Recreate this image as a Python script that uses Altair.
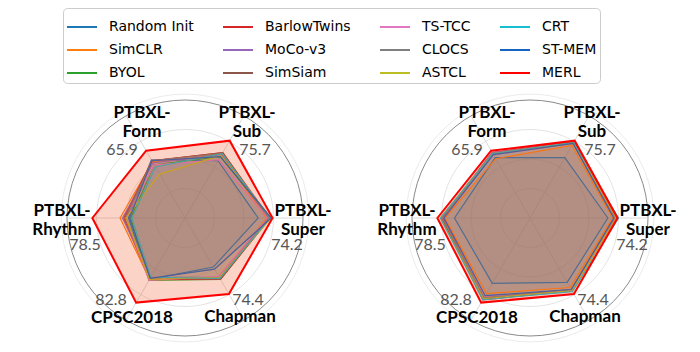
import altair as alt
import pandas as pd

# ---------------- data ----------------
CATEGORIES = ["PTBXL-Super", "PTBXL-Sub", "PTBXL-Form", "PTBXL-Rhythm", "CPSC2018", "Chapman"]
MAX_LABELS = ["74.2", "75.7", "65.9", "78.5", "82.8", "74.4"]

METHODS = ["Random Init", "SimCLR", "BYOL", "BarlowTwins", "MoCo-v3", "SimSiam",
           "TS-TCC", "CLOCS", "ASTCL", "CRT", "ST-MEM", "MERL"]
COLORS = ["#1f77b4", "#ff7f0e", "#2ca02c", "#d62728", "#9467bd", "#8c564b",
          "#e377c2", "#7f7f7f", "#bcbd22", "#17becf", "#1565c0", "#ff0000"]

# values per method, in CATEGORIES order (left panel)
LEFT_RANDOM_INIT = [62, 56, 57, 48, 60, 48]
LEFT_SIMCLR = [69, 62, 55, 55, 60, 59]
LEFT_BYOL = [72, 60, 52, 46, 61, 60]
LEFT_BARLOWTWINS = [72, 64, 56, 52, 60, 60]
LEFT_MOCOV3 = [71, 62, 54, 53, 58, 58]
LEFT_SIMSIAM = [71, 64, 56, 51, 59, 60]
LEFT_TSTCC = [70, 57, 52, 50, 61, 57]
LEFT_CLOCS = [71, 63, 56, 50, 59, 59]
LEFT_ASTCL = [73, 61, 43, 50, 60, 58]
LEFT_CRT = [72, 63, 50, 45, 58, 59]
LEFT_STMEM = [73, 60, 56, 47, 59, 50]
LEFT_MERL = [74.2, 75.7, 65.9, 78.5, 82.8, 74.4]

# right panel
RIGHT_RANDOM_INIT = [66, 59, 59, 64, 64, 63]
RIGHT_SIMCLR = [70, 71, 58, 72, 74, 68]
RIGHT_BYOL = [73, 74, 63, 75, 79, 70]
RIGHT_BARLOWTWINS = [73, 75, 64, 75, 80, 71]
RIGHT_MOCOV3 = [72, 74, 64, 74, 77, 70]
RIGHT_SIMSIAM = [72, 74, 63, 73, 78, 70]
RIGHT_TSTCC = [72, 73, 62, 73, 77, 70]
RIGHT_CLOCS = [72, 73, 63, 74, 78, 70]
RIGHT_ASTCL = [73, 74, 63, 76, 79, 71]
RIGHT_CRT = [75, 74, 63, 76, 80, 72]
RIGHT_STMEM = [71, 73, 62, 73, 76, 70]
RIGHT_MERL = [74.2, 75.7, 65.9, 78.5, 82.8, 74.4]

GRID_VALUES = [25, 50, 75]
OUTER_VALUE = 100
FRAME_VALUE = 105

LEFT = [LEFT_RANDOM_INIT, LEFT_SIMCLR, LEFT_BYOL, LEFT_BARLOWTWINS, LEFT_MOCOV3, LEFT_SIMSIAM,
        LEFT_TSTCC, LEFT_CLOCS, LEFT_ASTCL, LEFT_CRT, LEFT_STMEM, LEFT_MERL]
RIGHT = [RIGHT_RANDOM_INIT, RIGHT_SIMCLR, RIGHT_BYOL, RIGHT_BARLOWTWINS, RIGHT_MOCOV3, RIGHT_SIMSIAM,
         RIGHT_TSTCC, RIGHT_CLOCS, RIGHT_ASTCL, RIGHT_CRT, RIGHT_STMEM, RIGHT_MERL]

# ---------------- layout (pixels) ----------------
W, H = 700, 352
K = 1.18           # pixels per score unit
CY = 218
CX_LEFT, CX_RIGHT = 185, 530
LABEL_DX = [118, 62, -43, -123, -53, 55]
LABEL_DY = [0, -98, -98, 0, 100, 99]
VAL_DX = [102, 70, -63, -100, -74, 63]
VAL_DY = [27, -68, -68, 27, 82, 82]
MULTILINE_SHIFT = -7

LEGEND_ORDER = [METHODS[r + 3 * c] for r in range(3) for c in range(4)]
LEGEND_COLORS = [COLORS[METHODS.index(m)] for m in LEGEND_ORDER]

rows = []
for panel, table in enumerate([LEFT, RIGHT]):
    for m, vals in zip(METHODS, table):
        for i, v in enumerate(vals):
            rows.append({"panel": panel, "method": m, "idx": i, "value": v})
df = pd.DataFrame(rows)

grid_rows = []
for panel in (0, 1):
    for g in GRID_VALUES:
        grid_rows.append({"panel": panel, "value": g, "kind": "grid"})
    grid_rows.append({"panel": panel, "value": OUTER_VALUE, "kind": "outer"})
    grid_rows.append({"panel": panel, "value": FRAME_VALUE, "kind": "frame"})
grid_df = pd.DataFrame(grid_rows)

axis_rows = []
for panel in (0, 1):
    for i, c in enumerate(CATEGORIES):
        multi = c.startswith("PTBXL-")
        axis_rows.append({"panel": panel, "idx": i, "value": OUTER_VALUE,
                          "label": c.replace("PTBXL-", "PTBXL-\n"),
                          "maxlabel": MAX_LABELS[i],
                          "ldx": LABEL_DX[i],
                          "ldy": LABEL_DY[i] + (MULTILINE_SHIFT if multi else 0),
                          "vdx": VAL_DX[i], "vdy": VAL_DY[i]})
axis_df = pd.DataFrame(axis_rows)

xs = alt.Scale(domain=[0, W], nice=False, zero=False)
ys = alt.Scale(domain=[0, H], nice=False, zero=False, reverse=True)
X = lambda f: alt.X(f, scale=xs, axis=None)
Y = lambda f: alt.Y(f, scale=ys, axis=None)

def polar(chart):
    return chart.transform_calculate(
        cx=f"datum.panel == 0 ? {CX_LEFT} : {CX_RIGHT}",
        cy=f"{CY}",
        ang="datum.idx * PI / 3",
    ).transform_calculate(
        px=f"datum.cx + datum.value * {K} * cos(datum.ang)",
        py=f"datum.cy - datum.value * {K} * sin(datum.ang)",
    )

circles = alt.Chart(grid_df).transform_calculate(
    cx=f"datum.panel == 0 ? {CX_LEFT} : {CX_RIGHT}",
    cy=f"{CY}",
    sz=f"pow(2 * datum.value * {K}, 2)",
    col="datum.kind == 'grid' ? '#dcdcdc' : (datum.kind == 'outer' ? '#8a8a8a' : '#e6e6e6')",
    sw="datum.kind == 'outer' ? 1.0 : 0.8",
).mark_point(shape="circle", filled=False, opacity=1).encode(
    x=X("cx:Q"), y=Y("cy:Q"),
    size=alt.Size("sz:Q", scale=None, legend=None),
    stroke=alt.Stroke("col:N", scale=None, legend=None),
    strokeWidth=alt.StrokeWidth("sw:Q", scale=None, legend=None),
)

spokes = polar(alt.Chart(axis_df)).mark_rule(color="#d0d0d0", strokeWidth=0.8).encode(
    x=X("cx:Q"), y=Y("cy:Q"), x2="px:Q", y2="py:Q",
)

color_scale = alt.Scale(domain=LEGEND_ORDER, range=LEGEND_COLORS)
fill_scale = alt.Scale(domain=METHODS, range=COLORS)
legend = alt.Legend(
    title=None, orient="none", legendX=63, legendY=8, columns=4, direction="horizontal",
    symbolType="stroke", symbolSize=900, symbolStrokeWidth=2, gridAlign="each",
    labelFont="DejaVu Sans", labelFontSize=14, labelColor="black",
    labelOffset=11, columnPadding=25, rowPadding=-6.5, padding=3,
    strokeColor="#cccccc", fillColor="white", cornerRadius=4,
)

base_df = df[df.method != "MERL"]
merl_df = df[df.method == "MERL"]

base_fill = polar(alt.Chart(base_df)).mark_line(
    interpolate="linear-closed", strokeOpacity=0, strokeWidth=0, fillOpacity=0.1
).encode(
    x=X("px:Q"), y=Y("py:Q"),
    order=alt.Order("idx:Q"),
    detail="panel:N",
    fill=alt.Fill("method:N", scale=fill_scale, legend=None),
)

base_line = polar(alt.Chart(base_df)).mark_line(
    interpolate="linear-closed", strokeWidth=1.2
).encode(
    x=X("px:Q"), y=Y("py:Q"),
    order=alt.Order("idx:Q"),
    detail="panel:N",
    color=alt.Color("method:N", scale=color_scale, legend=legend),
)

merl_fill = polar(alt.Chart(merl_df)).mark_line(
    interpolate="linear-closed", strokeOpacity=0, strokeWidth=0,
    fill="#ef4f1f", fillOpacity=0.25
).encode(
    x=X("px:Q"), y=Y("py:Q"),
    order=alt.Order("idx:Q"),
    detail="panel:N",
)

merl_line = polar(alt.Chart(merl_df)).mark_line(
    interpolate="linear-closed", strokeWidth=2
).encode(
    x=X("px:Q"), y=Y("py:Q"),
    order=alt.Order("idx:Q"),
    detail="panel:N",
    color=alt.Color("method:N", scale=color_scale, legend=legend),
)

cat_text = alt.Chart(axis_df).transform_calculate(
    cx=f"datum.panel == 0 ? {CX_LEFT} : {CX_RIGHT}",
).transform_calculate(
    tx="datum.cx + datum.ldx",
    ty=f"{CY} + datum.ldy",
).mark_text(
    font="Lato", fontWeight="bold", fontSize=17, color="black",
    align="center", baseline="middle", lineBreak="\n", lineHeight=19,
).encode(
    x=X("tx:Q"), y=Y("ty:Q"), text="label:N",
)

val_text = alt.Chart(axis_df).transform_calculate(
    cx=f"datum.panel == 0 ? {CX_LEFT} : {CX_RIGHT}",
).transform_calculate(
    tx="datum.cx + datum.vdx",
    ty=f"{CY} + datum.vdy",
).mark_text(
    font="Lato", fontSize=16, color="#555555",
    align="center", baseline="middle",
).encode(
    x=X("tx:Q"), y=Y("ty:Q"), text="maxlabel:N",
)

chart = alt.layer(circles, spokes, base_fill, base_line, merl_fill, merl_line, cat_text, val_text).properties(
    width=W, height=H, autosize=alt.AutoSizeParams(type="none"), padding=0,
).configure_view(stroke=None)

chart.save("out.html", embed_options={"renderer": "svg", "actions": False})
